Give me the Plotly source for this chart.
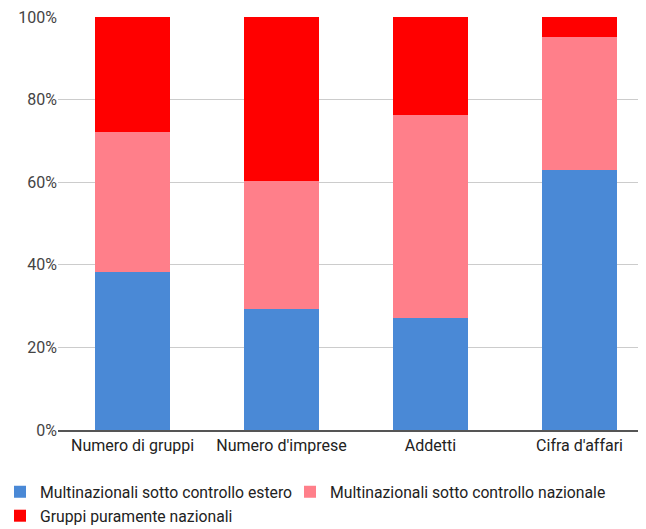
import plotly.graph_objects as go

categories = ["Numero di gruppi", "Numero d'imprese", "Addetti", "Cifra d'affari"]
estero = [38.3, 29.3, 27.1, 63.0]
nazionale_multi = [33.9, 31.0, 49.2, 32.2]
puramente_nazionali = [27.8, 39.7, 23.7, 4.8]

series_names = [
    "Multinazionali sotto controllo estero",
    "Multinazionali sotto controllo nazionale",
    "Gruppi puramente nazionali",
]
colors = ["#4a89d6", "#ff7f8a", "#ff0000"]
legend_refs = ["legend", "legend3", "legend2"]

fig = go.Figure()
for name, vals, col, lg in zip(series_names, [estero, nazionale_multi, puramente_nazionali], colors, legend_refs):
    fig.add_trace(go.Bar(name=name, x=categories, y=vals, legend=lg,
                         marker=dict(color=col, line=dict(width=0))))

legend_common = dict(
    orientation="h",
    xanchor="left",
    yanchor="top",
    font=dict(size=15.75, color="#222222"),
    traceorder="normal",
    bgcolor="rgba(0,0,0,0)",
)

fig.update_layout(
    barmode="stack",
    bargap=0.497,
    width=638,
    height=521,
    margin=dict(l=50, r=0, t=9, b=99, autoexpand=False),
    paper_bgcolor="white",
    plot_bgcolor="white",
    font=dict(family="Roboto", size=16, color="#333333"),
    xaxis=dict(
        type="category",
        range=[-0.5, 3.446],
        showgrid=False,
        showline=True,
        linecolor="#555555",
        linewidth=2,
        tickfont=dict(color="#222222", size=16),
        ticks="",
    ),
    yaxis=dict(
        range=[0, 100],
        tickvals=[0, 20, 40, 60, 80, 100],
        ticktext=["0%", "20%", "40%", "60%", "80%", "100%"],
        showgrid=True,
        gridcolor="#cccccc",
        gridwidth=1,
        zeroline=False,
        tickfont=dict(color="#444444", size=16),
        ticks="",
        ticklabeloverflow="allow",
    ),
    legend=dict(x=-0.0986, y=-0.109, **legend_common),
    legend3=dict(x=0.3946, y=-0.109, **legend_common),
    legend2=dict(x=-0.0986, y=-0.167, **legend_common),
    showlegend=True,
)

fig.write_html("out.html")
